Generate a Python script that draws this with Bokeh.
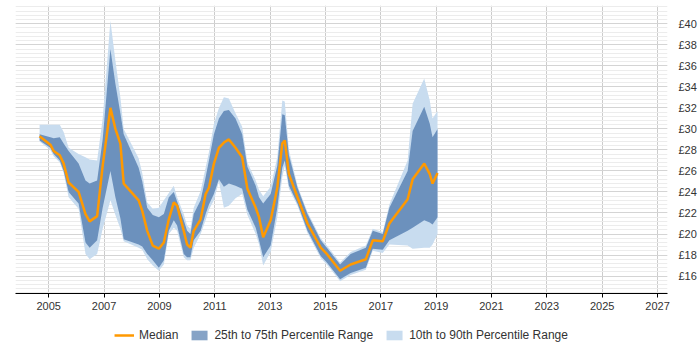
from bokeh.plotting import figure
from bokeh.layouts import column
from bokeh.models import Range1d, FixedTicker, PrintfTickFormatter, Legend, LegendItem
from bokeh.embed import file_html
from bokeh.resources import INLINE
import numpy as np

years = [2004.67, 2005.06, 2005.18, 2005.40, 2005.54, 2005.72, 2006.08, 2006.33, 2006.48, 2006.75,
         2006.95, 2007.23, 2007.41, 2007.59, 2007.71, 2008.25, 2008.38, 2008.56, 2008.76, 2008.98,
         2009.16, 2009.34, 2009.52, 2009.64, 2009.88, 2010.00, 2010.12, 2010.24, 2010.49, 2010.67,
         2010.79, 2010.97, 2011.15, 2011.33, 2011.51, 2011.75, 2011.99, 2012.18, 2012.48, 2012.60,
         2012.75, 2013.02, 2013.26, 2013.44, 2013.53, 2013.68, 2013.99, 2014.35, 2014.83, 2015.05,
         2015.53, 2015.91, 2016.46, 2016.71, 2017.07, 2017.31, 2017.97, 2018.15, 2018.57, 2018.77,
         2018.87, 2019.05]

median = [29.3, 28.5, 27.9, 27.5, 26.7, 24.9, 24.0, 21.9, 21.2, 21.7,
          26.5, 32.0, 30.0, 28.6, 24.8, 23.2, 22.2, 20.3, 18.9, 18.6,
          19.2, 21.4, 23.0, 22.7, 20.3, 19.0, 18.7, 20.3, 21.4, 23.8,
          24.4, 26.7, 28.2, 28.7, 29.0, 28.2, 27.3, 24.3, 22.5, 21.6,
          19.7, 21.3, 24.4, 28.6, 28.9, 25.7, 23.5, 21.0, 18.7, 18.1,
          16.5, 17.1, 17.6, 19.4, 19.3, 21.0, 23.3, 25.2, 26.7, 25.7,
          24.8, 25.8]

q25 = [28.9, 28.2, 27.6, 27.0, 26.0, 24.0, 22.9, 19.2, 18.7, 19.4,
       22.5, 26.0, 23.5, 21.5, 19.5, 19.0, 18.8, 18.1, 17.5, 16.8,
       17.5, 20.3, 21.3, 20.8, 18.1, 17.8, 17.8, 19.4, 20.3, 21.9,
       22.8, 23.8, 25.2, 24.5, 24.8, 24.6, 24.3, 22.3, 20.6, 19.4,
       17.8, 18.9, 22.5, 26.3, 27.0, 24.6, 22.9, 20.3, 17.9, 17.3,
       15.7, 16.3, 16.8, 18.6, 18.5, 19.4, 20.3, 20.6, 21.3, 21.1,
       20.9, 21.6]

q75 = [29.5, 29.2, 29.1, 29.2, 28.6, 27.9, 26.7, 25.1, 24.8, 25.1,
       29.0, 37.6, 34.3, 31.5, 29.5, 26.3, 25.0, 22.5, 21.8, 21.6,
       21.9, 23.5, 24.0, 23.1, 21.3, 20.3, 20.0, 21.9, 23.2, 25.4,
       27.0, 29.5, 31.0, 31.7, 31.8, 31.0, 29.5, 26.4, 24.6, 23.5,
       22.9, 23.8, 26.5, 31.4, 31.3, 27.5, 24.4, 21.9, 19.4, 18.7,
       17.1, 18.1, 18.7, 20.3, 20.0, 22.5, 26.0, 29.8, 32.1, 30.5,
       29.2, 30.0]

q10 = [28.8, 28.0, 27.4, 26.8, 25.8, 23.5, 22.4, 18.1, 17.6, 18.1,
       20.5, 23.2, 21.8, 20.5, 19.3, 18.7, 18.5, 17.6, 17.0, 16.5,
       17.1, 20.0, 20.6, 20.3, 17.8, 17.5, 17.5, 18.7, 20.0, 21.3,
       22.3, 23.2, 25.0, 22.5, 22.7, 23.4, 23.8, 21.8, 20.0, 19.0,
       17.0, 18.3, 21.6, 25.4, 26.5, 24.3, 22.7, 20.1, 17.7, 17.1,
       15.5, 16.1, 16.6, 18.4, 18.2, 19.0, 18.9, 18.6, 18.7, 18.7,
       19.0, 20.0]

q90 = [30.4, 30.4, 30.4, 30.4, 29.7, 28.2, 27.6, 27.3, 27.1, 27.0,
       31.0, 40.3, 36.5, 33.0, 30.0, 27.2, 25.8, 23.0, 22.4, 22.5,
       23.2, 23.9, 24.6, 23.5, 21.9, 20.8, 20.5, 22.5, 24.1, 26.3,
       27.8, 30.5, 32.0, 33.0, 32.9, 31.5, 30.2, 26.8, 25.1, 24.2,
       23.6, 24.5, 27.3, 32.7, 32.6, 28.0, 24.6, 22.1, 19.6, 18.9,
       17.3, 18.3, 18.9, 20.5, 20.2, 22.8, 27.0, 32.4, 34.8, 32.7,
       31.0, 31.7]

x_ticks = [2005, 2007, 2009, 2011, 2013, 2015, 2017, 2019, 2021, 2023, 2025, 2027]
y_ticks = [16, 18, 20, 22, 24, 26, 28, 30, 32, 34, 36, 38, 40]
labels = ["Median", "25th to 75th Percentile Range", "10th to 90th Percentile Range"]

FONT = "Liberation Sans"
ORANGE = "#ff9900"
LIGHT = "#c8dcef"
DARK = "#4571a8"

p = figure(width=700, height=320, output_backend="svg", toolbar_location=None,
           x_range=Range1d(2003.8, 2027.36), y_range=Range1d(14.34, 41.74),
           y_axis_location="right", min_border_left=15, min_border_top=5,
           min_border_right=33, min_border_bottom=27)
p.outline_line_color = None

p.varea(x=years, y1=q10, y2=q90, fill_color=LIGHT, fill_alpha=1.0)
p.varea(x=years, y1=q25, y2=q75, fill_color=DARK, fill_alpha=0.7)
p.line(x=years, y=median, line_color=ORANGE, line_width=2.5)

p.xaxis.ticker = FixedTicker(ticks=x_ticks)
p.xaxis.axis_line_color = "black"
p.xaxis.axis_line_width = 1.2
p.xaxis.major_tick_line_color = "black"
p.xaxis.major_tick_in = 0
p.xaxis.major_tick_out = 4
p.xaxis.minor_tick_line_color = None
p.xaxis.major_label_text_font = FONT
p.xaxis.major_label_text_font_size = "11px"
p.xaxis.major_label_text_color = "#333333"
p.xaxis.major_label_standoff = 4

minor = [round(v, 1) for v in np.arange(14.4, 41.8, 0.4)]
p.yaxis.ticker = FixedTicker(ticks=y_ticks, minor_ticks=minor)
p.yaxis.formatter = PrintfTickFormatter(format="£%d")
p.yaxis.axis_line_color = None
p.yaxis.major_tick_line_color = None
p.yaxis.minor_tick_line_color = None
p.yaxis.major_label_text_font = FONT
p.yaxis.major_label_text_font_size = "11px"
p.yaxis.major_label_text_color = "#333333"
p.yaxis.major_label_standoff = 5

p.xgrid.grid_line_color = "#cccccc"
p.ygrid.grid_line_color = "#d4d4d4"
p.ygrid.minor_grid_line_color = "#ececec"

# legend strip (dummy renderers placed outside the visible range)
lg = figure(width=700, height=30, output_backend="svg", toolbar_location=None,
            x_range=Range1d(0, 1), y_range=Range1d(0, 1),
            x_axis_type=None, y_axis_type=None,
            min_border_left=0, min_border_right=0, min_border_top=0, min_border_bottom=0)
lg.outline_line_color = None
lg.xgrid.visible = False
lg.ygrid.visible = False
r_med = lg.line(x=[5, 6], y=[5, 6], line_color=ORANGE, line_width=2.5)
r_dark = lg.varea(x=[5, 6], y1=[5, 5], y2=[6, 6], fill_color=DARK, fill_alpha=0.65)
r_light = lg.varea(x=[5, 6], y1=[5, 5], y2=[6, 6], fill_color=LIGHT, fill_alpha=1.0)
legend = Legend(items=[LegendItem(label=labels[0], renderers=[r_med]),
                       LegendItem(label=labels[1], renderers=[r_dark]),
                       LegendItem(label=labels[2], renderers=[r_light])],
                orientation="horizontal", location="center",
                label_text_font=FONT, label_text_font_size="12px", label_text_color="#333333",
                glyph_width=20, glyph_height=12, spacing=11, label_standoff=5,
                border_line_color=None, background_fill_alpha=0,
                margin=0, padding=2)
lg.add_layout(legend, "center")

layout = column(p, lg, spacing=0)
open("out.html", "w").write(file_html(layout, INLINE))
